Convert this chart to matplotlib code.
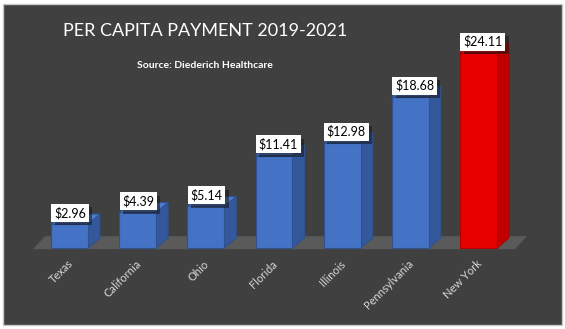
import matplotlib.pyplot as plt
import matplotlib.patheffects as pe
from matplotlib.patches import Polygon, Rectangle

states = ['Texas', 'California', 'Ohio', 'Florida', 'Illinois', 'Pennsylvania', 'New York']
payments = [2.96, 4.39, 5.14, 11.41, 12.98, 18.68, 24.11]
highlight = 'New York'

plt.rcParams['font.family'] = ['Lato', 'DejaVu Sans']

fig = plt.figure(figsize=(5.65, 3.29), dpi=100)
fig.patch.set_facecolor('white')
fig.patches.append(Rectangle((3 / 565, 4 / 329), 559 / 565, 321 / 329, transform=fig.transFigure,
                             facecolor='#404040', edgecolor='#c8c8c8', lw=1, zorder=-1))

ax = fig.add_axes([0, 0, 1, 1])
ax.set_facecolor('none')
ax.axis('off')

# pixel scale of the plot area
px_x = 68.17   # pixels per category
px_y = 8.09    # pixels per dollar
ax.set_xlim(-69.5 / px_x, (565 - 69.5) / px_x)
ax.set_ylim(-(329 - 248) / px_y, 248 / px_y)

w = 0.54
dx, dy = 12 / px_x, 10 / px_y
n = len(states)

# floor
f0 = -0.15
fx0, fx1 = -0.535, n - 1 + 0.535
fdx, fdy = 12 / px_x, 13 / px_y
ax.add_patch(Polygon([(fx0, f0), (fx1, f0), (fx1 + fdx, f0 + fdy), (fx0 + fdx, f0 + fdy)],
                     closed=True, facecolor='#5a5a5a', edgecolor='none', zorder=1))

for i, (s, v) in enumerate(zip(states, payments)):
    if s == highlight:
        front, side, top, edge = '#e60000', '#c00000', '#f01010', '#b00000'
    else:
        front, side, top, edge = '#4472c4', '#34589c', '#4f7dcc', '#2f528f'
    ax.bar(i, v, width=w, color=front, edgecolor=edge, lw=0.8, zorder=3)
    r = i + w / 2
    l = i - w / 2
    ax.add_patch(Polygon([(r, 0), (r + dx, dy), (r + dx, v + dy), (r, v)], closed=True,
                         facecolor=side, edgecolor=edge, lw=0.8, zorder=2))
    ax.add_patch(Polygon([(l, v), (r, v), (r + dx, v + dy), (l + dx, v + dy)], closed=True,
                         facecolor=top, edgecolor=edge, lw=0.8, zorder=2))

    lab = '${:.2f}'.format(v)
    t = ax.annotate(lab, xy=(l, v), xytext=(3, 5), textcoords='offset pixels', ha='left', va='bottom',
                    fontsize=9, color='black', zorder=5,
                    bbox=dict(boxstyle='square,pad=0.22', facecolor='white', edgecolor='none'))
    t.get_bbox_patch().set_path_effects([
        pe.SimplePatchShadow(offset=(2.5, -2.5), shadow_rgbFace='#151515', alpha=0.55),
        pe.Normal()])

    ax.text(i + 0.02, -1.73, s, rotation=45, ha='right', va='center', rotation_mode='anchor',
            color='#d9d9d9', fontsize=8)

fig.text(205 / 565, 1 - 31 / 329, 'PER CAPITA PAYMENT 2019-2021', ha='center', va='center',
         color='white', fontsize=13)
fig.text(205 / 565, 1 - 66 / 329, 'Source: Diederich Healthcare', ha='center', va='center',
         color='white', fontsize=7.5, fontweight='bold')

fig.savefig('out.png', dpi=100, facecolor=fig.get_facecolor())
